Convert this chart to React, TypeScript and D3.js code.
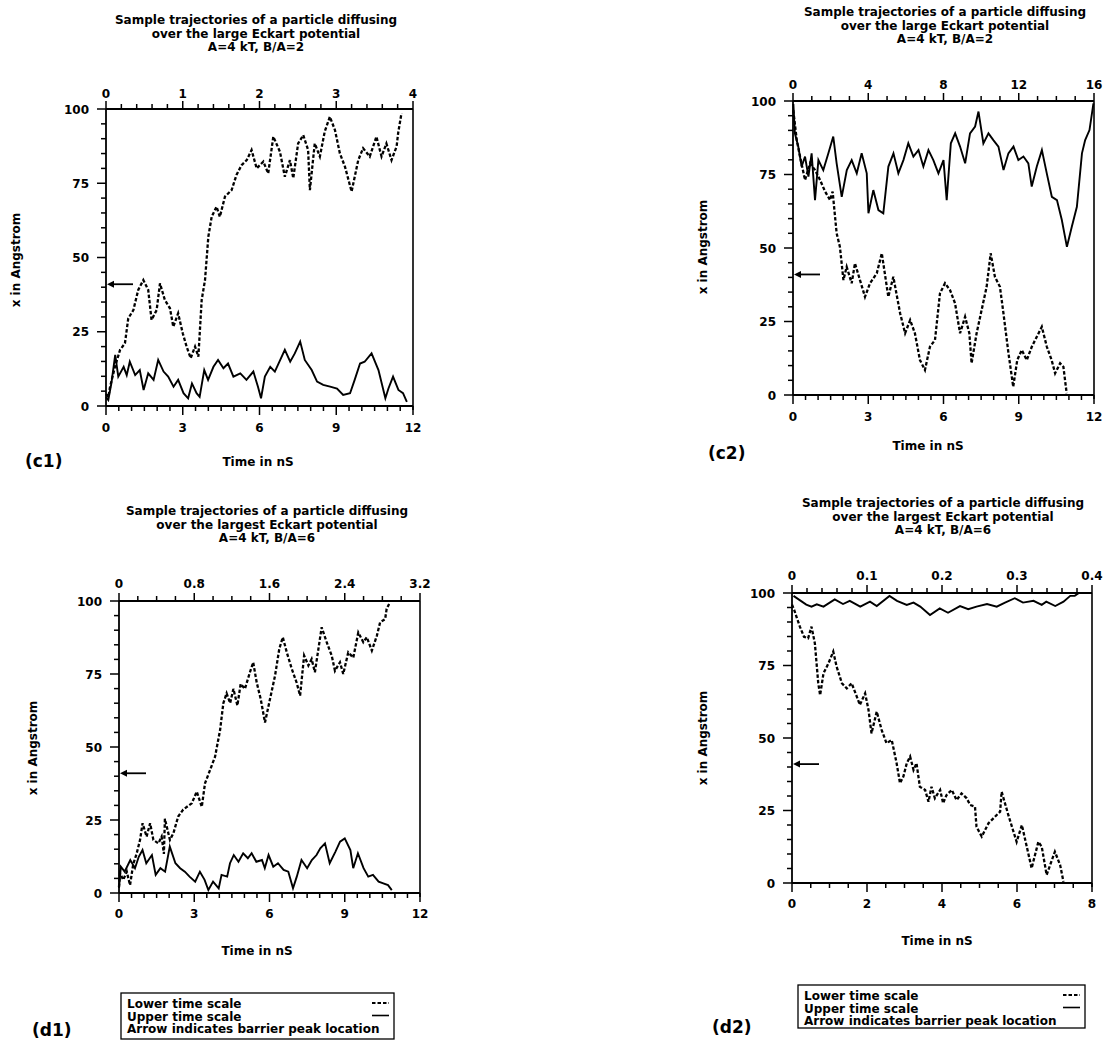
import React from 'react';
import * as d3 from 'd3';

type Pt = [number, number];

// ---------- Data (time, x in Angstrom) ----------
// (c1) lower time scale (dashed), 0..12 nS
const c1Lower: Pt[] = [[0,4],[0.09,3],[0.16,6.5],[0.35,13.2],[0.55,18.9],[0.74,21.1],[0.87,29.5],[1.07,32.3],[1.26,39.1],[1.46,42.4],[1.65,39.1],[1.78,29.0],[1.98,32.3],[2.11,41.3],[2.30,35.7],[2.50,32.9],[2.63,26.7],[2.82,31.2],[3.00,24.5],[3.15,20.0],[3.31,16.1],[3.48,20.0],[3.61,16.6],[3.74,35.7],[3.87,42.4],[4.00,57.0],[4.13,63.7],[4.32,67.1],[4.45,63.7],[4.65,70.5],[4.91,72.7],[5.10,77.8],[5.30,81.1],[5.50,82.8],[5.69,86.2],[5.89,80.0],[6.15,82.3],[6.34,78.3],[6.54,90.7],[6.80,85.6],[6.99,77.2],[7.19,82.8],[7.32,76.7],[7.51,88.4],[7.71,91.2],[7.90,86.2],[7.97,72.7],[8.16,88.4],[8.36,84.0],[8.55,92.4],[8.75,97.4],[8.95,92.9],[9.14,85.1],[9.34,80.6],[9.60,72.2],[9.86,82.8],[10.05,86.8],[10.31,84.0],[10.57,90.7],[10.77,84.0],[10.96,88.4],[11.16,82.8],[11.36,87.4],[11.42,91.9],[11.55,98.6]];
// (c1) upper time scale (solid), 0..4 nS
const c1Upper: Pt[] = [[0,3],[0.03,2.0],[0.07,7.6],[0.12,17.2],[0.16,9.9],[0.23,13.2],[0.27,10.4],[0.31,14.9],[0.38,10.4],[0.44,12.1],[0.49,5.4],[0.55,11.0],[0.62,8.8],[0.68,15.5],[0.75,11.6],[0.81,9.9],[0.88,6.5],[0.94,8.8],[1.01,4.3],[1.07,2.6],[1.12,7.6],[1.18,4.3],[1.22,3.1],[1.28,12.1],[1.33,8.8],[1.40,13.2],[1.46,15.5],[1.53,12.7],[1.59,14.3],[1.66,9.9],[1.75,11.0],[1.83,8.8],[1.92,11.6],[1.98,6.5],[2.02,2.6],[2.07,9.9],[2.14,13.2],[2.20,11.6],[2.27,15.5],[2.33,18.9],[2.40,14.9],[2.46,17.7],[2.53,21.7],[2.59,15.5],[2.68,12.1],[2.75,8.2],[2.83,7.1],[2.92,6.5],[3.01,5.9],[3.09,3.7],[3.18,4.3],[3.24,8.8],[3.31,14.3],[3.37,14.9],[3.46,17.7],[3.55,12.1],[3.64,2.6],[3.68,5.9],[3.74,9.9],[3.81,5.4],[3.87,4.3],[3.92,1.4]];

// (c2) lower time scale (dashed), 0..12 nS
const c2Lower: Pt[] = [[0.01,96.9],[0.15,86.7],[0.28,81.1],[0.48,73.1],[0.68,78.8],[0.88,76.5],[1.08,73.1],[1.28,69.2],[1.48,66.3],[1.58,69.2],[1.74,55.0],[1.87,50.4],[2.01,39.1],[2.14,43.6],[2.34,38.0],[2.47,44.8],[2.67,39.1],[2.87,33.4],[3.07,38.0],[3.34,41.4],[3.54,48.2],[3.80,33.4],[4.00,40.2],[4.27,27.8],[4.47,21.0],[4.67,25.5],[4.86,21.0],[5.06,11.9],[5.26,8.5],[5.46,16.4],[5.66,18.7],[5.86,34.6],[6.06,38.0],[6.26,35.7],[6.46,31.2],[6.66,21.0],[6.86,26.6],[7.03,21.0],[7.12,10.8],[7.32,21.0],[7.52,28.9],[7.72,36.8],[7.88,48.2],[8.05,40.2],[8.25,36.8],[8.39,27.8],[8.59,14.2],[8.78,2.8],[8.94,11.9],[9.12,15.3],[9.32,11.9],[9.52,16.4],[9.72,19.8],[9.92,23.2],[10.12,16.4],[10.31,11.9],[10.45,7.4],[10.65,10.8],[10.78,9.6],[10.91,0.6]];
// (c2) upper time scale (solid), 0..16 nS
const c2Upper: Pt[] = [[0.02,99],[0.10,89.0],[0.28,84.5],[0.46,77.7],[0.64,81.1],[0.82,74.3],[0.99,82.2],[1.17,66.3],[1.35,79.9],[1.61,76.5],[1.88,82.2],[2.14,87.9],[2.32,78.8],[2.59,67.4],[2.86,76.5],[3.12,79.9],[3.39,75.4],[3.65,82.2],[3.92,75.4],[4.01,61.8],[4.27,69.7],[4.54,62.9],[4.80,61.8],[5.07,77.7],[5.34,82.2],[5.60,75.4],[5.87,79.9],[6.13,85.6],[6.40,81.1],[6.67,83.3],[6.93,77.7],[7.20,83.3],[7.46,79.9],[7.73,75.4],[8.00,79.9],[8.17,66.3],[8.39,85.6],[8.62,89.0],[8.88,84.5],[9.15,78.8],[9.41,89.0],[9.68,91.3],[9.86,96.4],[10.12,85.6],[10.39,89.0],[10.65,86.7],[10.92,84.5],[11.19,76.5],[11.45,82.2],[11.72,84.5],[11.98,79.9],[12.25,81.1],[12.51,78.8],[12.69,70.9],[12.96,77.7],[13.23,83.3],[13.49,75.4],[13.76,67.4],[14.03,66.3],[14.29,59.5],[14.56,50.4],[14.82,57.2],[15.09,64.0],[15.36,82.2],[15.53,86.7],[15.76,90.1],[15.97,99.2]];

// (d1) lower time scale (dashed), 0..12 nS
const d1Lower: Pt[] = [[0,2],[0.04,6.7],[0.17,4.5],[0.31,7.3],[0.44,2.7],[0.57,10.0],[0.70,13.4],[0.84,18.2],[0.94,23.9],[1.10,19.3],[1.24,23.9],[1.37,18.2],[1.57,17.0],[1.70,19.3],[1.79,13.4],[1.83,25.4],[2.03,18.2],[2.17,20.5],[2.36,26.2],[2.56,28.6],[2.90,30.7],[3.10,34.7],[3.30,29.5],[3.43,37.6],[3.63,42.1],[3.83,46.7],[4.03,55.8],[4.16,65.0],[4.29,68.4],[4.43,65.0],[4.56,69.9],[4.72,64.2],[4.85,71.6],[5.02,69.9],[5.22,75.6],[5.35,79.0],[5.49,72.1],[5.65,66.4],[5.82,58.4],[6.02,66.4],[6.22,74.4],[6.39,83.6],[6.53,87.6],[6.69,82.4],[6.89,76.7],[7.08,72.1],[7.22,67.6],[7.38,81.3],[7.55,77.9],[7.68,80.1],[7.81,75.6],[7.95,83.6],[8.08,91.0],[8.28,85.9],[8.48,81.3],[8.61,76.1],[8.81,79.0],[8.94,75.0],[9.14,82.4],[9.34,80.6],[9.54,89.2],[9.74,85.9],[9.88,87.6],[10.08,83.0],[10.28,88.1],[10.41,92.7],[10.61,93.8],[10.67,97.3],[10.80,99.5]];
// (d1) upper time scale (solid), 0..3.2 nS
const d1Upper: Pt[] = [[0,1.7],[0.02,9.0],[0.06,7.3],[0.12,11.3],[0.17,8.5],[0.21,12.4],[0.25,14.7],[0.29,10.2],[0.35,13.0],[0.39,6.2],[0.44,8.5],[0.49,7.3],[0.54,15.9],[0.60,10.2],[0.65,8.5],[0.70,7.3],[0.75,5.6],[0.81,3.9],[0.86,7.3],[0.91,4.5],[0.95,1.0],[1.00,3.9],[1.06,1.6],[1.09,6.2],[1.15,5.6],[1.18,10.2],[1.22,13.0],[1.27,10.7],[1.32,13.6],[1.37,11.9],[1.41,13.6],[1.46,10.7],[1.52,11.3],[1.55,8.5],[1.59,13.0],[1.64,9.0],[1.69,10.2],[1.75,7.9],[1.80,7.3],[1.85,1.6],[1.89,5.6],[1.94,11.3],[2.00,8.5],[2.05,11.3],[2.10,13.0],[2.14,15.3],[2.19,17.0],[2.24,10.2],[2.30,14.1],[2.35,17.6],[2.40,18.7],[2.46,14.7],[2.49,8.5],[2.54,13.6],[2.60,8.5],[2.65,5.6],[2.70,6.2],[2.76,3.9],[2.81,3.3],[2.86,2.7],[2.90,1.0]];

// (d2) lower time scale (dashed), 0..8 nS
const d2Lower: Pt[] = [[0,96],[0.06,94.1],[0.12,91.8],[0.21,88.4],[0.32,84.9],[0.43,84.4],[0.52,88.4],[0.61,82.6],[0.70,68.9],[0.75,64.8],[0.84,72.3],[0.97,75.7],[1.10,79.8],[1.19,74.6],[1.33,68.9],[1.46,67.1],[1.59,68.9],[1.73,64.2],[1.81,61.4],[1.95,65.4],[2.04,59.7],[2.12,51.6],[2.26,59.1],[2.39,52.8],[2.52,48.2],[2.66,49.3],[2.79,41.3],[2.88,34.4],[2.97,36.7],[3.06,41.3],[3.15,43.6],[3.24,39.0],[3.32,41.3],[3.41,33.2],[3.55,32.1],[3.64,28.0],[3.72,33.2],[3.81,29.2],[3.95,32.1],[4.03,27.5],[4.12,30.3],[4.26,32.1],[4.39,28.6],[4.52,30.9],[4.66,29.2],[4.75,26.9],[4.88,26.3],[4.92,19.4],[5.06,16.0],[5.24,20.6],[5.37,22.3],[5.55,24.6],[5.59,31.5],[5.77,23.4],[5.99,14.2],[6.13,20.0],[6.39,5.1],[6.57,14.2],[6.66,12.5],[6.79,2.8],[7.01,10.8],[7.15,6.2],[7.24,0.4]];
// (d2) upper time scale (solid), 0..0.4 nS
const d2Upper: Pt[] = [[0.002,99.0],[0.019,96.0],[0.026,95.3],[0.033,96.1],[0.042,95.3],[0.057,97.8],[0.068,96.2],[0.077,97.3],[0.091,95.3],[0.104,97.0],[0.113,95.5],[0.130,99.0],[0.140,97.3],[0.153,95.9],[0.162,96.7],[0.171,95.3],[0.184,92.4],[0.197,94.7],[0.208,93.2],[0.224,95.5],[0.235,94.4],[0.246,95.3],[0.260,96.2],[0.273,95.3],[0.284,96.7],[0.297,98.2],[0.308,96.7],[0.322,97.3],[0.333,95.9],[0.339,97.0],[0.351,95.5],[0.362,97.0],[0.371,99.0],[0.377,99.0],[0.382,99.9]];

// ---------- Tick values ----------
const yTicks = [0, 25, 50, 75, 100];
const c1BottomTicks = [0, 3, 6, 9, 12];
const c1TopTicks = [0, 1, 2, 3, 4];
const c2BottomTicks = [0, 3, 6, 9, 12];
const c2TopTicks = [0, 4, 8, 12, 16];
const d1BottomTicks = [0, 3, 6, 9, 12];
const d1TopTicks = [0, 0.8, 1.6, 2.4, 3.2];
const d2BottomTicks = [0, 2, 4, 6, 8];
const d2TopTicks = [0, 0.1, 0.2, 0.3, 0.4];
const barrierPeak = 41;

const titleC = ['Sample trajectories of a particle diffusing', 'over the large Eckart potential', 'A=4 kT, B/A=2'];
const titleD = ['Sample trajectories of a particle diffusing', 'over the largest Eckart potential', 'A=4 kT, B/A=6'];
const legendLines = ['Lower time scale', 'Upper time scale', 'Arrow indicates barrier peak location'];

const FONT = '"DejaVu Sans", Verdana, sans-serif';

interface Cfg {
  tag: string; L: number; R: number; T: number; B: number;
  lower: Pt[]; upper: Pt[];
  bottomTicks: number[]; bottomMinor: number;
  topTicks: number[]; topMinor: number;
  title: string[]; titleX: number; titleY: number;
  topLabelY: number; bottomLabelY: number;
  xLabelX: number; xLabelY: number;
  tagX: number; tagY: number;
  yLabelX: number; yLabelY: number;
  legend?: { x: number; y: number; w: number; h: number };
}

const panels: Cfg[] = [
  { tag: '(c1)', L: 106, R: 413, T: 109, B: 406, lower: c1Lower, upper: c1Upper,
    bottomTicks: c1BottomTicks, bottomMinor: 0.5, topTicks: c1TopTicks, topMinor: 0.2,
    title: titleC, titleX: 256, titleY: 24, topLabelY: 98, bottomLabelY: 432,
    xLabelX: 258, xLabelY: 466, tagX: 25, tagY: 467, yLabelX: 20, yLabelY: 260 },
  { tag: '(c2)', L: 793, R: 1094, T: 101, B: 395, lower: c2Lower, upper: c2Upper,
    bottomTicks: c2BottomTicks, bottomMinor: 0.5, topTicks: c2TopTicks, topMinor: 1,
    title: titleC, titleX: 945, titleY: 16, topLabelY: 89, bottomLabelY: 421,
    xLabelX: 928, xLabelY: 450, tagX: 708, tagY: 459, yLabelX: 707, yLabelY: 247 },
  { tag: '(d1)', L: 119, R: 420, T: 601, B: 893, lower: d1Lower, upper: d1Upper,
    bottomTicks: d1BottomTicks, bottomMinor: 0.5, topTicks: d1TopTicks, topMinor: 0.2,
    title: titleD, titleX: 267, titleY: 515, topLabelY: 588, bottomLabelY: 918,
    xLabelX: 257, xLabelY: 955, tagX: 32, tagY: 1036, yLabelX: 37, yLabelY: 748,
    legend: { x: 121, y: 993, w: 273, h: 46 } },
  { tag: '(d2)', L: 792, R: 1092, T: 593, B: 883, lower: d2Lower, upper: d2Upper,
    bottomTicks: d2BottomTicks, bottomMinor: 0.5, topTicks: d2TopTicks, topMinor: 0.02,
    title: titleD, titleX: 943, titleY: 507, topLabelY: 580, bottomLabelY: 908,
    xLabelX: 937, xLabelY: 945, tagX: 712, tagY: 1033, yLabelX: 707, yLabelY: 738,
    legend: { x: 798, y: 985, w: 287, h: 43 } },
];

function minorTicks(max: number, step: number): number[] {
  const n = Math.round(max / step);
  return d3.range(0, n + 1).map(i => i * step);
}

function Panel({ c }: { c: Cfg }) {
  const lowerMax = c.bottomTicks[c.bottomTicks.length - 1];
  const upperMax = c.topTicks[c.topTicks.length - 1];
  const x = d3.scaleLinear().domain([0, lowerMax]).range([c.L, c.R]);
  const xu = d3.scaleLinear().domain([0, upperMax]).range([c.L, c.R]);
  const y = d3.scaleLinear().domain([0, 100]).range([c.B, c.T]);
  const lineL = d3.line<Pt>().x(d => x(d[0])).y(d => y(d[1]));
  const lineU = d3.line<Pt>().x(d => xu(d[0])).y(d => y(d[1]));
  const yMinor = minorTicks(100, 5);
  const bMinor = minorTicks(lowerMax, c.bottomMinor);
  const tMinor = minorTicks(upperMax, c.topMinor);
  const ay = y(barrierPeak);
  const tx = { fontFamily: FONT, fontWeight: 'bold' as const, fill: '#000' };
  const lg = c.legend;
  const lgStep = 12.5;
  return (
    <g>
      {c.title.map((t, i) => (
        <text key={i} x={c.titleX} y={c.titleY + i * 13.5} textAnchor="middle" fontSize={12} {...tx}>{t}</text>
      ))}
      {/* data */}
      <path d={lineU(c.upper) || ''} fill="none" stroke="#000" strokeWidth={1.9} strokeLinejoin="miter" />
      <path d={lineL(c.lower) || ''} fill="none" stroke="#000" strokeWidth={2.3} strokeDasharray="3.5 2" />
      {/* axes frame */}
      <line x1={c.L} x2={c.R} y1={c.T} y2={c.T} stroke="#000" strokeWidth={1.8} />
      <line x1={c.L} x2={c.R} y1={c.B} y2={c.B} stroke="#000" strokeWidth={1.8} />
      <line x1={c.L} x2={c.L} y1={c.T} y2={c.B} stroke="#000" strokeWidth={1.8} />
      <line x1={c.R} x2={c.R} y1={c.T} y2={c.B + 4} stroke="#000" strokeWidth={1.6} />
      {/* y ticks */}
      {yMinor.map(v => (
        <line key={'ym' + v} x1={c.L} x2={c.L - (v % 25 === 0 ? 9 : 5)} y1={y(v)} y2={y(v)} stroke="#000" strokeWidth={1.5} />
      ))}
      {yTicks.map(v => (
        <text key={'yl' + v} x={c.L - 17} y={y(v) + 4.5} textAnchor="end" fontSize={12} {...tx}>{v}</text>
      ))}
      {/* bottom ticks */}
      {bMinor.map((v, i) => (
        <line key={'bm' + i} x1={x(v)} x2={x(v)} y1={c.B} y2={c.B + (c.bottomTicks.some(t => Math.abs(t - v) < 1e-9) ? 9 : 5)} stroke="#000" strokeWidth={1.5} />
      ))}
      {c.bottomTicks.map(v => (
        <text key={'bl' + v} x={x(v)} y={c.bottomLabelY} textAnchor="middle" fontSize={12} {...tx}>{v}</text>
      ))}
      {/* top ticks */}
      {tMinor.map((v, i) => (
        <line key={'tm' + i} x1={xu(v)} x2={xu(v)} y1={c.T} y2={c.T - (c.topTicks.some(t => Math.abs(t - v) < 1e-9) ? 8 : 5)} stroke="#000" strokeWidth={1.5} />
      ))}
      {c.topTicks.map(v => (
        <text key={'tl' + v} x={xu(v)} y={c.topLabelY} textAnchor="middle" fontSize={12} {...tx}>{v}</text>
      ))}
      {/* barrier arrow */}
      <line x1={c.L + 5} x2={c.L + 27} y1={ay} y2={ay} stroke="#000" strokeWidth={1.8} />
      <path d={`M${c.L + 1},${ay} L${c.L + 8},${ay - 3.5} L${c.L + 8},${ay + 3.5} Z`} fill="#000" />
      {/* labels */}
      <text x={c.xLabelX} y={c.xLabelY} textAnchor="middle" fontSize={12} {...tx}>Time in nS</text>
      <text x={c.yLabelX} y={c.yLabelY} textAnchor="middle" fontSize={12} transform={`rotate(-90, ${c.yLabelX}, ${c.yLabelY})`} {...tx}>x in Angstrom</text>
      <text x={c.tagX} y={c.tagY} fontSize={17} {...tx}>{c.tag}</text>
      {lg && (
        <g>
          <rect x={lg.x} y={lg.y} width={lg.w} height={lg.h} fill="#fff" stroke="#000" strokeWidth={1.3} />
          {legendLines.map((t, i) => (
            <text key={i} x={lg.x + 6} y={lg.y + 15 + i * lgStep} fontSize={12} {...tx}>{t}</text>
          ))}
          <line x1={lg.x + lg.w - 22} x2={lg.x + lg.w - 5} y1={lg.y + 10} y2={lg.y + 10} stroke="#000" strokeWidth={1.8} strokeDasharray="3.5 2" />
          <line x1={lg.x + lg.w - 22} x2={lg.x + lg.w - 5} y1={lg.y + 10 + lgStep} y2={lg.y + 10 + lgStep} stroke="#000" strokeWidth={1.6} />
        </g>
      )}
    </g>
  );
}

export default function App() {
  return (
    <svg width={1105} height={1042} viewBox="0 0 1105 1042"
      style={{ position: 'absolute', left: 0, top: 0, display: 'block', background: '#fff' }}>
      <rect x={0} y={0} width={1105} height={1042} fill="#fff" />
      {panels.map(p => <Panel key={p.tag} c={p} />)}
    </svg>
  );
}
